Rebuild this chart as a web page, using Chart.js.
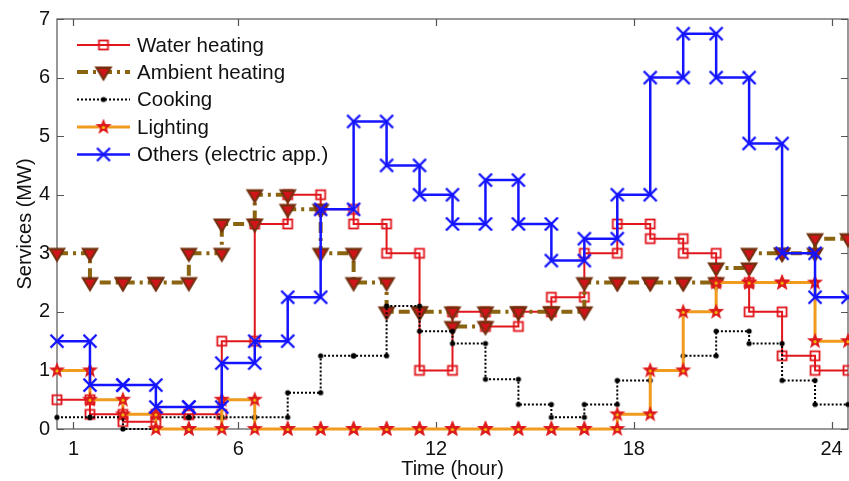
<!DOCTYPE html>
<html>
<head>
<meta charset="utf-8">
<script src="https://cdn.jsdelivr.net/npm/chart.js@4.4.1/dist/chart.umd.min.js"></script>
<style>
  html, body { margin: 0; padding: 0; background: #fff; }
  #wrap { width: 849px; height: 481px; }
</style>
</head>
<body>
<div id="wrap"><canvas id="chart" width="849" height="481"></canvas></div>
<script>
// ===== DATA (MW per hour) =====
const hours = [1, 2, 3, 4, 5, 6, 7, 8, 9, 10, 11, 12, 13, 14, 15, 16, 17, 18, 19, 20, 21, 22, 23, 24];
const waterHeating = [0.5, 0.25, 0.125, 0.25, 0.25, 1.5, 3.5, 4.0, 3.75, 3.5, 3.0, 1.0, 2.0, 1.75, 2.0, 2.25, 3.0, 3.5, 3.25, 3.0, 2.5, 2.0, 1.25, 1.0];
const ambientHeating = [3.0, 2.5, 2.5, 2.5, 3.0, 3.5, 4.0, 3.75, 3.0, 2.5, 2.0, 2.0, 1.75, 2.0, 2.0, 2.0, 2.5, 2.5, 2.5, 2.5, 2.75, 3.0, 3.0, 3.25];
const cooking = [0.2, 0.2, 0.0, 0.2, 0.2, 0.2, 0.2, 0.62, 1.25, 1.25, 2.1, 1.67, 1.46, 0.85, 0.42, 0.2, 0.42, 0.83, 1.0, 1.25, 1.67, 1.46, 0.83, 0.42];
const lighting = [1.0, 0.5, 0.25, 0, 0, 0.5, 0, 0, 0, 0, 0, 0, 0, 0, 0, 0, 0, 0.25, 1.0, 2.0, 2.5, 2.5, 2.5, 1.5];
const others = [1.5, 0.75, 0.75, 0.375, 0.375, 1.125, 1.5, 2.25, 3.75, 5.25, 4.5, 4.0, 3.5, 4.25, 3.5, 2.875, 3.25, 4.0, 6.0, 6.75, 6.0, 4.875, 3.0, 2.25];

const seriesNames = ["Water heating", "Ambient heating", "Cooking", "Lighting", "Others (electric app.)"];
const xTicks = [1, 6, 12, 18, 24];
const yTicks = [0, 1, 2, 3, 4, 5, 6, 7];

Chart.defaults.font.family = "'Liberation Sans', Arial, sans-serif";
Chart.defaults.color = "#111";

// each hour is a flat step from h-0.5 to h+0.5
function steps(values) {
  const pts = [];
  hours.forEach((h, i) => {
    pts.push({ x: h - 0.5, y: values[i] });
    pts.push({ x: h + 0.5, y: values[i] });
  });
  return pts;
}

/* ===== MARKERS ===== */
function marker(size, draw) {
  const c = document.createElement("canvas");
  c.width = size;
  c.height = size;
  const ctx = c.getContext("2d");
  ctx.translate(size / 2, size / 2);
  draw(ctx);
  return c;
}

const squareMark = marker(14, ctx => {
  ctx.strokeStyle = "#e0161c";
  ctx.lineWidth = 1.8;
  ctx.strokeRect(-4.5, -4.5, 9, 9);
});

const triangleMark = marker(22, ctx => {
  ctx.beginPath();
  ctx.moveTo(-9, -5.5);
  ctx.lineTo(9, -5.5);
  ctx.lineTo(0, 9.5);
  ctx.closePath();
  ctx.fillStyle = "#73300f";
  ctx.fill();
  ctx.beginPath();
  ctx.moveTo(-5, -3);
  ctx.lineTo(5, -3);
  ctx.lineTo(0, 5.5);
  ctx.closePath();
  ctx.fillStyle = "#d0141a";
  ctx.fill();
});

const dotMark = marker(8, ctx => {
  ctx.beginPath();
  ctx.arc(0, 0, 2.6, 0, Math.PI * 2);
  ctx.fillStyle = "#000";
  ctx.fill();
});

const starMark = marker(20, ctx => {
  ctx.beginPath();
  for (let i = 0; i < 10; i++) {
    const r = i % 2 === 0 ? 8.5 : 3.6;
    const a = -Math.PI / 2 + i * Math.PI / 5;
    ctx.lineTo(r * Math.cos(a), r * Math.sin(a));
  }
  ctx.closePath();
  ctx.fillStyle = "#dd1a1c";
  ctx.fill();
  ctx.beginPath();
  ctx.arc(0, 0.5, 1.6, 0, Math.PI * 2);
  ctx.fillStyle = "#f2c200";
  ctx.fill();
});

const crossMark = marker(18, ctx => {
  ctx.strokeStyle = "#1414ff";
  ctx.lineWidth = 2.4;
  ctx.beginPath();
  ctx.moveTo(-6.5, -6.5); ctx.lineTo(6.5, 6.5);
  ctx.moveTo(6.5, -6.5); ctx.lineTo(-6.5, 6.5);
  ctx.stroke();
});

const styles = [
  { color: "#e0161c", width: 2, dash: [], mark: squareMark },
  { color: "#8a6410", width: 4, dash: [11, 5, 3, 5], mark: triangleMark },
  { color: "#000000", width: 2, dash: [2, 2], mark: dotMark },
  { color: "#f09a1e", width: 3, dash: [], mark: starMark },
  { color: "#1414ff", width: 2.5, dash: [], mark: crossMark },
];

const allValues = [waterHeating, ambientHeating, cooking, lighting, others];

const datasets = allValues.map((vals, i) => ({
  label: seriesNames[i],
  data: steps(vals),
  showLine: true,
  borderColor: styles[i].color,
  borderWidth: styles[i].width,
  borderDash: styles[i].dash,
  pointStyle: styles[i].mark,
  pointRadius: 5,
  pointHoverRadius: 5,
  tension: 0,
  clip: false,
  order: 5 - i,
}));

/* ===== FRAME + INSIDE TICKS ===== */
const framePlugin = {
  id: "frame",
  beforeDatasetsDraw(chart) {
    const { ctx, chartArea: a, scales: { x, y } } = chart;
    ctx.save();
    ctx.strokeStyle = "#555";
    ctx.lineWidth = 1.2;
    ctx.strokeRect(a.left, a.top, a.right - a.left, a.bottom - a.top);
    ctx.beginPath();
    xTicks.forEach(v => {
      const px = Math.round(x.getPixelForValue(v)) + 0.5;
      ctx.moveTo(px, a.bottom); ctx.lineTo(px, a.bottom - 7);
      ctx.moveTo(px, a.top); ctx.lineTo(px, a.top + 7);
    });
    yTicks.forEach(v => {
      const py = Math.round(y.getPixelForValue(v)) + 0.5;
      ctx.moveTo(a.left, py); ctx.lineTo(a.left + 7, py);
      ctx.moveTo(a.right, py); ctx.lineTo(a.right - 7, py);
    });
    ctx.stroke();
    ctx.restore();
  },
};

/* ===== LEGEND (line + marker samples) ===== */
const legendPlugin = {
  id: "stepLegend",
  afterDatasetsDraw(chart) {
    const { ctx, chartArea: a } = chart;
    const rowY = [45, 72, 99.5, 127, 154.5];
    ctx.save();
    ctx.font = "20.5px 'Liberation Sans', Arial, sans-serif";
    ctx.textBaseline = "middle";
    ctx.fillStyle = "#111";
    seriesNames.forEach((name, i) => {
      const s = styles[i];
      const y = rowY[i];
      const x0 = a.left + 20, x1 = a.left + 73;
      ctx.strokeStyle = s.color;
      ctx.lineWidth = s.width;
      ctx.setLineDash(s.dash);
      ctx.beginPath();
      ctx.moveTo(x0, y); ctx.lineTo(x1, y);
      ctx.stroke();
      ctx.setLineDash([]);
      ctx.drawImage(s.mark, (x0 + x1) / 2 - s.mark.width / 2, y - s.mark.height / 2);
      ctx.fillText(name, a.left + 80, y + 1);
    });
    ctx.restore();
  },
};

new Chart(document.getElementById("chart"), {
  type: "scatter",
  data: { datasets },
  options: {
    responsive: false,
    animation: false,
    devicePixelRatio: 1,
    layout: { autoPadding: false, padding: { top: 16, right: 1, left: 0, bottom: 0 } },
    plugins: {
      legend: { display: false },
      tooltip: { enabled: false },
    },
    scales: {
      x: {
        type: "linear",
        min: 0.5,
        max: 24.5,
        afterBuildTicks: s => { s.ticks = xTicks.map(v => ({ value: v })); },
        afterFit: s => { s.height = 52; s.paddingLeft = 0; s.paddingRight = 0; },
        grid: { display: false, drawTicks: false },
        border: { display: false },
        ticks: { font: { size: 20 }, color: "#111", padding: 8, maxRotation: 0, autoSkip: false },
        title: { display: true, text: "Time (hour)", font: { size: 20 }, color: "#111", padding: { top: 0, bottom: 0 } },
      },
      y: {
        min: 0,
        max: 7,
        afterBuildTicks: s => { s.ticks = yTicks.map(v => ({ value: v })); },
        afterFit: s => { s.width = 57; },
        grid: { display: false, drawTicks: false },
        border: { display: false },
        ticks: { font: { size: 20 }, color: "#111", padding: 7 },
        title: { display: true, text: "Services (MW)", font: { size: 20 }, color: "#111", padding: { top: 13, bottom: 0 } },
      },
    },
  },
  plugins: [framePlugin, legendPlugin],
});
</script>
</body>
</html>
